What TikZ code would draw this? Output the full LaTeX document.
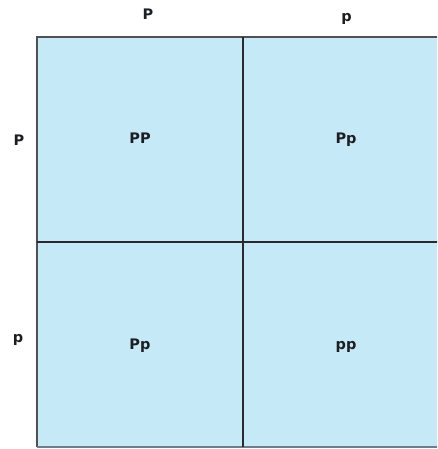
\documentclass[tikz,border=0pt]{standalone}
\usepackage{fontspec}
\setmainfont{DejaVu Sans}
\usepackage{xcolor}
\usetikzlibrary{positioning}

\definecolor{cellblue}{RGB}{198,233,248}
\definecolor{edgegray}{RGB}{80,80,82}
\definecolor{gridline}{RGB}{40,42,46}
\definecolor{basegray}{RGB}{110,125,135}
\definecolor{ink}{RGB}{28,30,34}

\begin{document}
\begin{tikzpicture}[x=1pt, y=-1pt,
    cell/.style={rectangle, fill=cellblue, minimum width=206pt, minimum height=205pt,
      inner sep=0pt, outer sep=0pt, text height=9pt, text depth=0pt,
      font=\fontsize{14.5}{17}\selectfont\bfseries, text=ink},
    head/.style={anchor=base, font=\fontsize{14.5}{17}\selectfont\bfseries, text=ink, inner sep=0pt}]
  \useasboundingbox (0,0) rectangle (437,449);
  \clip (0,0) rectangle (437,449);

  % the four cells
  \node[cell] (PP) at (140,139.5) {PP};
  \node[cell, right=0pt of PP] (Pp) {Pp};
  \node[cell, below=0pt of PP] (pP) {Pp};
  \node[cell, right=0pt of pP] (pp) {pp};

  % parent alleles
  \node[head] (topP) at (148,19.5) {P};
  \node[head] (topp) at (346.5,21.5) {p};
  \node[head] (leftP) at (19,145.5) {P};
  \node[head] (leftp) at (18,342) {p};

  % outer border
  \draw[edgegray, line width=2.5pt] (pP.south west) -- (PP.north west) -- (Pp.north east);
  \draw[basegray, line width=1.2pt] (pP.south west) -- (pp.south east);

  % inner lines
  \draw[gridline, line width=2pt] (PP.north east) -- (pp.south west);
  \draw[gridline, line width=2pt] (PP.south west) -- (Pp.south east);
\end{tikzpicture}
\end{document}
